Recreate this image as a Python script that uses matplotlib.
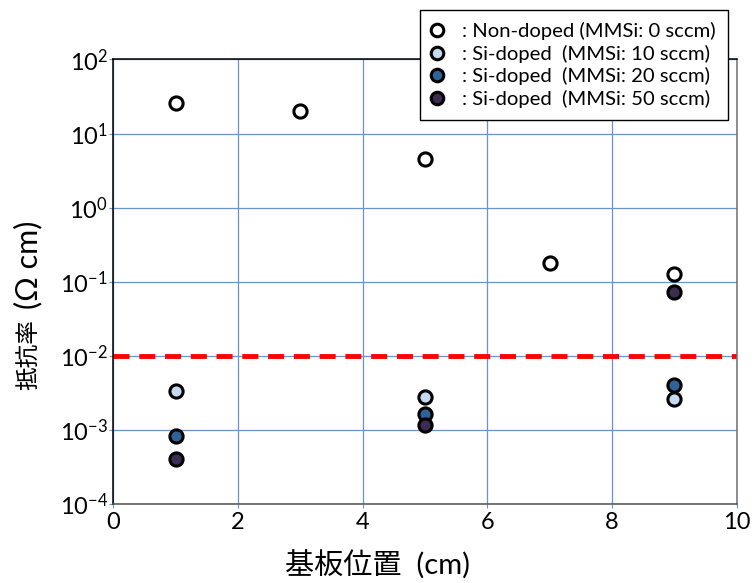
import matplotlib
matplotlib.use('Agg')
import matplotlib.pyplot as plt
from matplotlib.ticker import FixedLocator, NullLocator

plt.rcParams['font.family'] = ['Lato', 'Noto Sans CJK JP', 'DejaVu Sans']
plt.rcParams['mathtext.fontset'] = 'custom'
plt.rcParams['mathtext.rm'] = 'Lato'
plt.rcParams['mathtext.default'] = 'regular'

# ---- data ----
series_labels = [": Non-doped (MMSi: 0 sccm)",
                 ": Si-doped  (MMSi: 10 sccm)",
                 ": Si-doped  (MMSi: 20 sccm)",
                 ": Si-doped  (MMSi: 50 sccm)"]
nondoped_x = [1, 3, 5, 7, 9]
nondoped_y = [25.9, 20.2, 4.6, 0.18, 0.129]
si10_x = [1, 5, 9]
si10_y = [3.37e-3, 2.8e-3, 2.6e-3]
si20_x = [1, 5, 9]
si20_y = [8.4e-4, 1.63e-3, 4.0e-3]
si50_x = [1, 5, 9]
si50_y = [4.0e-4, 1.16e-3, 0.073]
threshold = 1e-2
x_ticks = [0, 2, 4, 6, 8, 10]
y_ticks = [1e-4, 1e-3, 1e-2, 1e-1, 1e0, 1e1, 1e2]
y_tick_labels = ['$10^{-4}$', '$10^{-3}$', '$10^{-2}$', '$10^{-1}$',
                 '$10^{0}$', '$10^{1}$', '$10^{2}$']
x_label = "基板位置  (cm)"
y_label_main = "抵抗率"
y_label_unit = "(Ω cm)"

colors = ['#ffffff', '#c5d9f1', '#2f6296', '#3c2c52']

fig = plt.figure(figsize=(7.56, 5.83), dpi=100)
ax = fig.add_axes([0.150, 0.1355, 0.8245, 0.7625])
ax.set_yscale('log')
ax.set_xlim(0, 10)
ax.set_ylim(1e-4, 1e2)

grid_c = '#6a93cc'
ax.yaxis.set_major_locator(FixedLocator(y_ticks))
ax.yaxis.set_minor_locator(NullLocator())
ax.set_yticklabels(y_tick_labels)
ax.set_xticks(x_ticks)
ax.grid(True, color=grid_c, linewidth=0.9, zorder=0)
ax.set_axisbelow(True)
ax.tick_params(axis='both', length=3, color=grid_c, labelsize=17)
ax.tick_params(axis='y', pad=1)
ax.tick_params(axis='x', pad=3)

for s, c in zip(['left', 'top', 'bottom', 'right'], ['black', 'black', '#505050', '#707070']):
    ax.spines[s].set_color(c)
    ax.spines[s].set_linewidth(1.1)

ax.axhline(threshold, color='red', linewidth=3.5, dashes=(3.3, 2.0), zorder=2)

mk = dict(linestyle='none', marker='o', markersize=9.5, markeredgewidth=2.2,
          markeredgecolor='black', zorder=3)
h0, = ax.plot(nondoped_x, nondoped_y, markerfacecolor=colors[0], label=series_labels[0], **mk)
h1, = ax.plot(si10_x, si10_y, markerfacecolor=colors[1], label=series_labels[1], **mk)
h2, = ax.plot(si20_x, si20_y, markerfacecolor=colors[2], label=series_labels[2], **mk)
h3, = ax.plot(si50_x, si50_y, markerfacecolor=colors[3], label=series_labels[3], **mk)

leg = fig.legend(handles=[h0, h1, h2, h3], loc='upper right',
                 bbox_to_anchor=(728 / 756, 1 - 10 / 583), bbox_transform=fig.transFigure,
                 fontsize=14.6, frameon=True, fancybox=False, framealpha=1,
                 edgecolor='black', handlelength=0.5, handletextpad=1.0,
                 labelspacing=0.22, borderpad=0.6, borderaxespad=0, markerscale=0.95)
leg.get_frame().set_linewidth(1.0)

ax.set_xlabel(x_label, fontsize=21)
ax.xaxis.set_label_coords(0.424, -0.105)
ax.text(-0.137, 0.337, y_label_main, transform=ax.transAxes, rotation=90,
        ha='center', va='center', fontsize=17)
ax.text(-0.137, 0.539, y_label_unit, transform=ax.transAxes, rotation=90,
        ha='center', va='center', fontsize=22)

fig.savefig('out.png', dpi=100)
